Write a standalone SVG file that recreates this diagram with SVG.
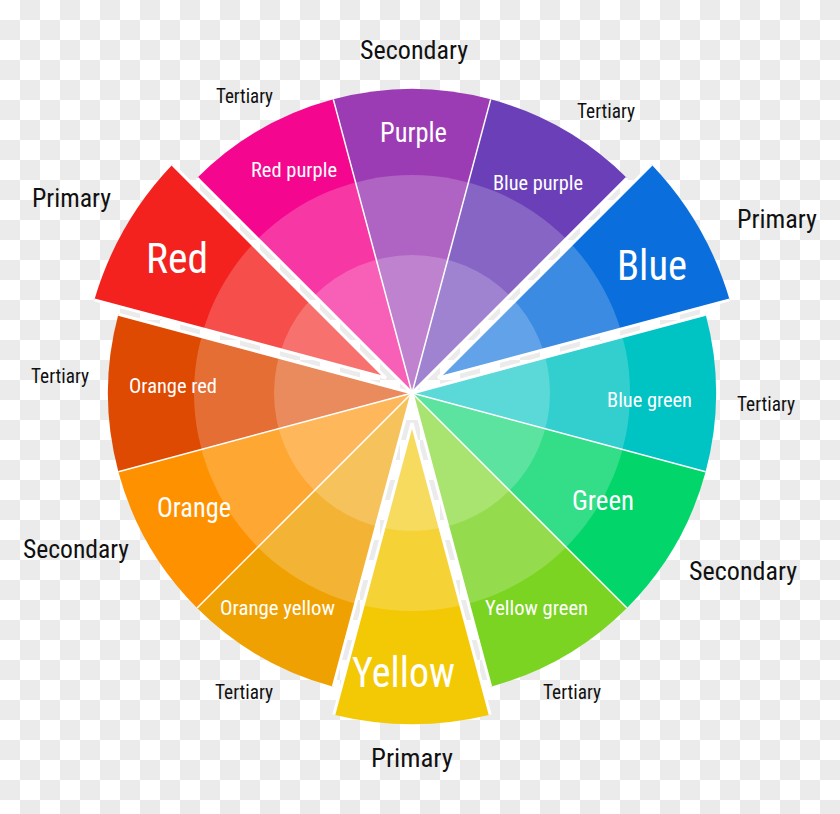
<svg xmlns="http://www.w3.org/2000/svg" xmlns:xlink="http://www.w3.org/1999/xlink" width="840" height="814" viewBox="0 0 840 814">
<style>
.ring{fill:#ffffff;fill-opacity:0.2}
.out{font-family:"Roboto Condensed","Liberation Sans Narrow","DejaVu Sans Condensed",Roboto,sans-serif;fill:#111111}
.in{font-family:"Roboto Condensed","Liberation Sans Narrow","DejaVu Sans Condensed",Roboto,sans-serif;fill:#ffffff}
.sep{stroke:#ffffff;stroke-width:1.5;fill:none}
.gap{stroke:#ffffff;stroke-width:3;fill:none}
</style>
<defs>
<pattern id="checker" patternUnits="userSpaceOnUse" width="40" height="40">
<rect width="40" height="40" fill="#ffffff"/>
<rect x="20" y="0" width="20" height="20" fill="#ebebeb"/>
<rect x="0" y="20" width="20" height="20" fill="#ebebeb"/>
</pattern>
<path id="p-bluegreen" d="M412 393 L705.64 314.32 A304 304 0 0 1 705.64 471.68 Z"/>
<path id="p-green" d="M412 393 L705.64 471.68 A304 304 0 0 1 626.96 607.96 Z"/>
<path id="p-yellowgreen" d="M412 393 L626.96 607.96 A304 304 0 0 1 490.68 686.64 Z"/>
<path id="p-yellow" d="M412 423 L490.15 714.64 A331 331 0 0 1 333.85 714.64 Z"/>
<path id="p-orangeyellow" d="M412 393 L333.32 686.64 A304 304 0 0 1 197.04 607.96 Z"/>
<path id="p-orange" d="M412 393 L197.04 607.96 A304 304 0 0 1 118.36 471.68 Z"/>
<path id="p-orangered" d="M412 393 L118.36 471.68 A304 304 0 0 1 118.36 314.32 Z"/>
<path id="p-red" d="M386.02 378 L94.38 299.85 A331 331 0 0 1 172.52 164.5 Z"/>
<path id="p-redpurple" d="M412 393 L197.04 178.04 A304 304 0 0 1 333.32 99.36 Z"/>
<path id="p-purple" d="M412 393 L333.32 99.36 A304 304 0 0 1 490.68 99.36 Z"/>
<path id="p-bluepurple" d="M412 393 L490.68 99.36 A304 304 0 0 1 626.96 178.04 Z"/>
<path id="p-blue" d="M437.98 378 L651.48 164.5 A331 331 0 0 1 729.62 299.85 Z"/>
<clipPath id="c-bluegreen"><use xlink:href="#p-bluegreen"/></clipPath>
<clipPath id="c-green"><use xlink:href="#p-green"/></clipPath>
<clipPath id="c-yellowgreen"><use xlink:href="#p-yellowgreen"/></clipPath>
<clipPath id="c-yellow"><use xlink:href="#p-yellow"/></clipPath>
<clipPath id="c-orangeyellow"><use xlink:href="#p-orangeyellow"/></clipPath>
<clipPath id="c-orange"><use xlink:href="#p-orange"/></clipPath>
<clipPath id="c-orangered"><use xlink:href="#p-orangered"/></clipPath>
<clipPath id="c-red"><use xlink:href="#p-red"/></clipPath>
<clipPath id="c-redpurple"><use xlink:href="#p-redpurple"/></clipPath>
<clipPath id="c-purple"><use xlink:href="#p-purple"/></clipPath>
<clipPath id="c-bluepurple"><use xlink:href="#p-bluepurple"/></clipPath>
<clipPath id="c-blue"><use xlink:href="#p-blue"/></clipPath>
<g id="rings">
<circle class="ring" cx="412" cy="393" r="218"/>
<circle class="ring" cx="412" cy="393" r="138"/>
</g>
</defs>
<rect width="840" height="814" fill="url(#checker)"/>

<g id="node-bluegreen">
<use xlink:href="#p-bluegreen" fill="#00c4c3"/>
<use xlink:href="#rings" clip-path="url(#c-bluegreen)"/>
<text class="in" x="607" y="407" font-size="20.5" textLength="85" lengthAdjust="spacingAndGlyphs">Blue green</text>
</g>
<g id="node-green">
<use xlink:href="#p-green" fill="#02d56a"/>
<use xlink:href="#rings" clip-path="url(#c-green)"/>
<text class="in" x="572" y="510" font-size="27" textLength="62" lengthAdjust="spacingAndGlyphs">Green</text>
</g>
<g id="node-yellowgreen">
<use xlink:href="#p-yellowgreen" fill="#7ad421"/>
<use xlink:href="#rings" clip-path="url(#c-yellowgreen)"/>
<text class="in" x="485" y="615" font-size="20.5" textLength="103" lengthAdjust="spacingAndGlyphs">Yellow green</text>
</g>
<g id="node-yellow">
<use xlink:href="#p-yellow" fill="#f3c905"/>
<use xlink:href="#rings" clip-path="url(#c-yellow)"/>
<text class="in" x="352" y="687" font-size="43" textLength="103" lengthAdjust="spacingAndGlyphs">Yellow</text>
</g>
<g id="node-orangeyellow">
<use xlink:href="#p-orangeyellow" fill="#f0a102"/>
<use xlink:href="#rings" clip-path="url(#c-orangeyellow)"/>
<text class="in" x="220" y="615" font-size="20.5" textLength="115" lengthAdjust="spacingAndGlyphs">Orange yellow</text>
</g>
<g id="node-orange">
<use xlink:href="#p-orange" fill="#fe9100"/>
<use xlink:href="#rings" clip-path="url(#c-orange)"/>
<text class="in" x="157" y="517" font-size="27" textLength="74" lengthAdjust="spacingAndGlyphs">Orange</text>
</g>
<g id="node-orangered">
<use xlink:href="#p-orangered" fill="#de4a02"/>
<use xlink:href="#rings" clip-path="url(#c-orangered)"/>
<text class="in" x="129" y="393" font-size="20.5" textLength="88" lengthAdjust="spacingAndGlyphs">Orange red</text>
</g>
<g id="node-red">
<use xlink:href="#p-red" fill="#f3221e"/>
<use xlink:href="#rings" clip-path="url(#c-red)"/>
<text class="in" x="146" y="273" font-size="43" textLength="62" lengthAdjust="spacingAndGlyphs">Red</text>
</g>
<g id="node-redpurple">
<use xlink:href="#p-redpurple" fill="#f5068e"/>
<use xlink:href="#rings" clip-path="url(#c-redpurple)"/>
<text class="in" x="251" y="177" font-size="20.5" textLength="86" lengthAdjust="spacingAndGlyphs">Red purple</text>
</g>
<g id="node-purple">
<use xlink:href="#p-purple" fill="#9c3cb4"/>
<use xlink:href="#rings" clip-path="url(#c-purple)"/>
<text class="in" x="380" y="142" font-size="27" textLength="67" lengthAdjust="spacingAndGlyphs">Purple</text>
</g>
<g id="node-bluepurple">
<use xlink:href="#p-bluepurple" fill="#6a3fb7"/>
<use xlink:href="#rings" clip-path="url(#c-bluepurple)"/>
<text class="in" x="493" y="190" font-size="20.5" textLength="90" lengthAdjust="spacingAndGlyphs">Blue purple</text>
</g>
<g id="node-blue">
<use xlink:href="#p-blue" fill="#0a6fdc"/>
<use xlink:href="#rings" clip-path="url(#c-blue)"/>
<text class="in" x="617" y="280" font-size="43" textLength="70" lengthAdjust="spacingAndGlyphs">Blue</text>
</g>

<g id="connectors">
<line class="sep" x1="412" y1="393" x2="705.64" y2="471.68"/>
<line class="sep" x1="412" y1="393" x2="626.96" y2="607.96"/>
<line class="sep" x1="412" y1="393" x2="197.04" y2="607.96"/>
<line class="sep" x1="412" y1="393" x2="118.36" y2="471.68"/>
<line class="sep" x1="412" y1="393" x2="333.32" y2="99.36"/>
<line class="sep" x1="412" y1="393" x2="490.68" y2="99.36"/>
<line class="gap" x1="412" y1="393" x2="490.68" y2="686.64"/>
<line class="gap" x1="412" y1="393" x2="333.32" y2="686.64"/>
<line class="gap" x1="412" y1="393" x2="118.36" y2="314.32"/>
<line class="gap" x1="412" y1="393" x2="197.04" y2="178.04"/>
<line class="gap" x1="412" y1="393" x2="626.96" y2="178.04"/>
<line class="gap" x1="412" y1="393" x2="705.64" y2="314.32"/>
<line class="gap" x1="412" y1="423" x2="490.15" y2="714.64"/>
<line class="gap" x1="412" y1="423" x2="333.85" y2="714.64"/>
<line class="gap" x1="386.02" y1="378" x2="94.38" y2="299.85"/>
<line class="gap" x1="386.02" y1="378" x2="172.52" y2="164.5"/>
<line class="gap" x1="437.98" y1="378" x2="651.48" y2="164.5"/>
<line class="gap" x1="437.98" y1="378" x2="729.62" y2="299.85"/>
</g>

<g id="labels">
<text class="out" x="360" y="59" font-size="25" textLength="108" lengthAdjust="spacingAndGlyphs">Secondary</text>
<text class="out" x="23" y="558" font-size="25" textLength="106" lengthAdjust="spacingAndGlyphs">Secondary</text>
<text class="out" x="689" y="580" font-size="25" textLength="108" lengthAdjust="spacingAndGlyphs">Secondary</text>
<text class="out" x="32" y="207" font-size="25" textLength="79" lengthAdjust="spacingAndGlyphs">Primary</text>
<text class="out" x="737" y="228" font-size="25" textLength="80" lengthAdjust="spacingAndGlyphs">Primary</text>
<text class="out" x="371" y="767" font-size="25" textLength="82" lengthAdjust="spacingAndGlyphs">Primary</text>
<text class="out" x="216" y="103" font-size="21" textLength="57" lengthAdjust="spacingAndGlyphs">Tertiary</text>
<text class="out" x="577" y="118" font-size="21" textLength="58" lengthAdjust="spacingAndGlyphs">Tertiary</text>
<text class="out" x="31" y="383" font-size="21" textLength="58" lengthAdjust="spacingAndGlyphs">Tertiary</text>
<text class="out" x="737" y="411" font-size="21" textLength="58" lengthAdjust="spacingAndGlyphs">Tertiary</text>
<text class="out" x="215" y="699" font-size="21" textLength="58" lengthAdjust="spacingAndGlyphs">Tertiary</text>
<text class="out" x="543" y="699" font-size="21" textLength="58" lengthAdjust="spacingAndGlyphs">Tertiary</text>
</g>
</svg>
